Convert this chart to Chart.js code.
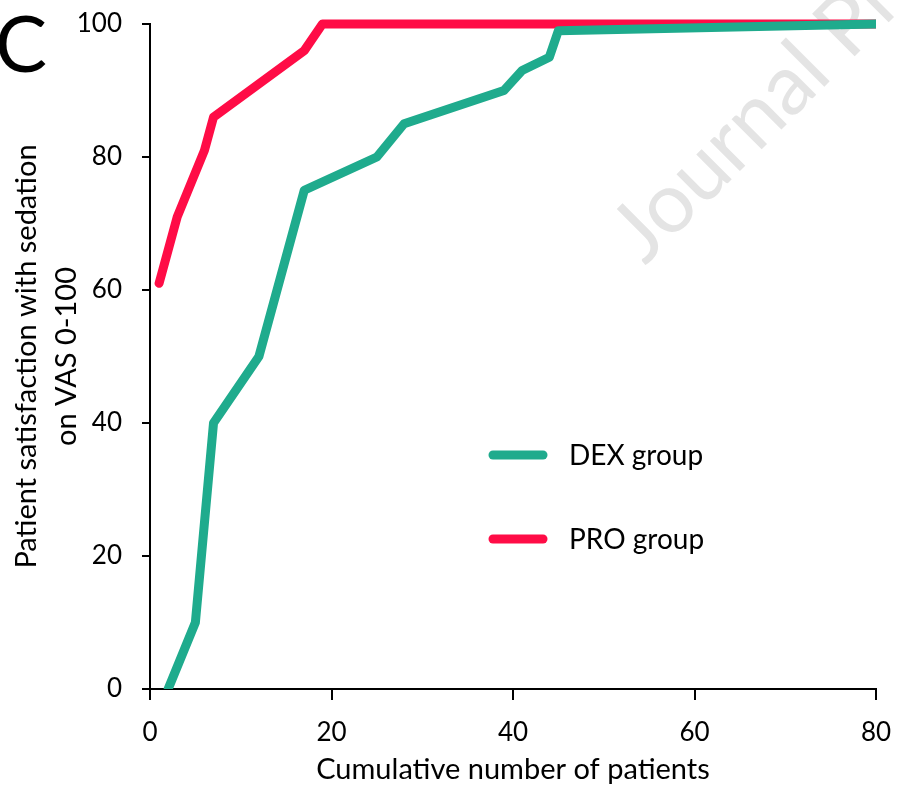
<!DOCTYPE html>
<html>
<head>
<meta charset="utf-8">
<script src="https://cdn.jsdelivr.net/npm/chart.js@4.4.1/dist/chart.umd.min.js"></script>
<style>
  html, body { margin: 0; padding: 0; background: #fff; }
  #wrap { width: 897px; height: 787px; position: relative; }
</style>
</head>
<body>
<div id="wrap"><canvas id="grafico" width="897" height="787"></canvas></div>
<script>
// datos
const dexX = [2, 5, 7, 12, 14, 16, 17, 25, 28, 39, 41, 44, 45, 80];
const dexY = [0, 10, 40, 50, 60, 70, 75, 80, 85, 90, 93, 95, 99, 100];
const proX = [1, 3, 6, 7, 17, 19, 80];
const proY = [61, 71, 81, 86, 96, 100, 100];
const xTicks = [0, 20, 40, 60, 80];
const yTicks = [0, 20, 40, 60, 80, 100];
const grupos = ['DEX group', 'PRO group'];

const verde = '#1fab8d';
const rojo = '#ff0c46';
const fuente = 'Lato, "Open Sans", sans-serif';

function puntos(xs, ys) {
    return xs.map((x, i) => ({ x: x, y: ys[i] }));
}

// marca de agua, letra C y leyenda dentro del area
const extras = {
    id: 'extras',
    beforeDatasetsDraw(chart) {
        const ctx = chart.ctx;
        ctx.save();
        ctx.translate(645, 266);
        ctx.rotate(-Math.PI / 4);
        ctx.font = '84px ' + fuente;
        ctx.fillStyle = '#e4e4e4';
        ctx.textBaseline = 'alphabetic';
        ctx.fillText('Journal Pre-proof', 0, 0);
        ctx.restore();
    },
    afterDraw(chart) {
        const ctx = chart.ctx;
        ctx.save();
        ctx.fillStyle = '#000';
        ctx.font = '78px ' + fuente;
        ctx.textBaseline = 'middle';
        ctx.fillText('C', -5, 47);

        const filas = [455, 539];
        chart.data.datasets.forEach((ds, i) => {
            ctx.strokeStyle = ds.borderColor;
            ctx.lineWidth = 9;
            ctx.lineCap = 'round';
            ctx.beginPath();
            ctx.moveTo(493, filas[i]);
            ctx.lineTo(543, filas[i]);
            ctx.stroke();
            ctx.fillStyle = '#000';
            ctx.font = '28px ' + fuente;
            ctx.fillText(ds.label, 569, filas[i] + 1);
        });
        ctx.restore();
    }
};

const ctx = document.getElementById('grafico').getContext('2d');
const grafico = new Chart(ctx, {
    type: 'line',
    data: {
        datasets: [
            {
                label: grupos[0],
                data: puntos(dexX, dexY),
                borderColor: verde,
                borderWidth: 9,
                pointRadius: 0,
                tension: 0,
                borderCapStyle: 'round',
                borderJoinStyle: 'round',
                clip: { left: 5, right: 0, top: 5, bottom: 0 }
            },
            {
                label: grupos[1],
                data: puntos(proX, proY),
                borderColor: rojo,
                borderWidth: 9,
                pointRadius: 0,
                tension: 0,
                borderCapStyle: 'round',
                borderJoinStyle: 'round',
                clip: { left: 5, right: 0, top: 5, bottom: 0 }
            }
        ]
    },
    options: {
        responsive: false,
        animation: false,
        layout: { padding: { top: 24, right: 21, left: 0, bottom: 0 } },
        plugins: {
            legend: { display: false },
            tooltip: { enabled: false }
        },
        scales: {
            x: {
                type: 'linear',
                min: 0,
                max: 80,
                afterBuildTicks: (s) => { s.ticks = xTicks.map(v => ({ value: v })); },
                afterFit: (s) => { s.height = 98; s.paddingLeft = 0; s.paddingRight = 0; },
                border: { color: '#000', width: 2 },
                grid: { drawOnChartArea: false, color: '#000', lineWidth: 2, tickLength: 11 },
                ticks: { color: '#000', font: { family: fuente, size: 26 }, padding: 17, maxRotation: 0 },
                title: {
                    display: true,
                    text: 'Cumulative number of patients',
                    color: '#000',
                    font: { family: fuente, size: 29 },
                    padding: { top: 0, bottom: 0 }
                }
            },
            y: {
                min: 0,
                max: 100,
                afterBuildTicks: (s) => { s.ticks = yTicks.map(v => ({ value: v })); },
                afterFit: (s) => { s.width = 150; s.paddingTop = 0; s.paddingBottom = 0; },
                border: { color: '#000', width: 2 },
                grid: { drawOnChartArea: false, color: '#000', lineWidth: 2, tickLength: 8 },
                ticks: { color: '#000', font: { family: fuente, size: 26 }, padding: 20 },
                title: {
                    display: true,
                    text: ['Patient satisfaction with sedation', 'on VAS 0-100'],
                    color: '#000',
                    font: { family: fuente, size: 29, lineHeight: 1.4 },
                    padding: { top: 6, bottom: 0 }
                }
            }
        }
    },
    plugins: [extras]
});
</script>
</body>
</html>
